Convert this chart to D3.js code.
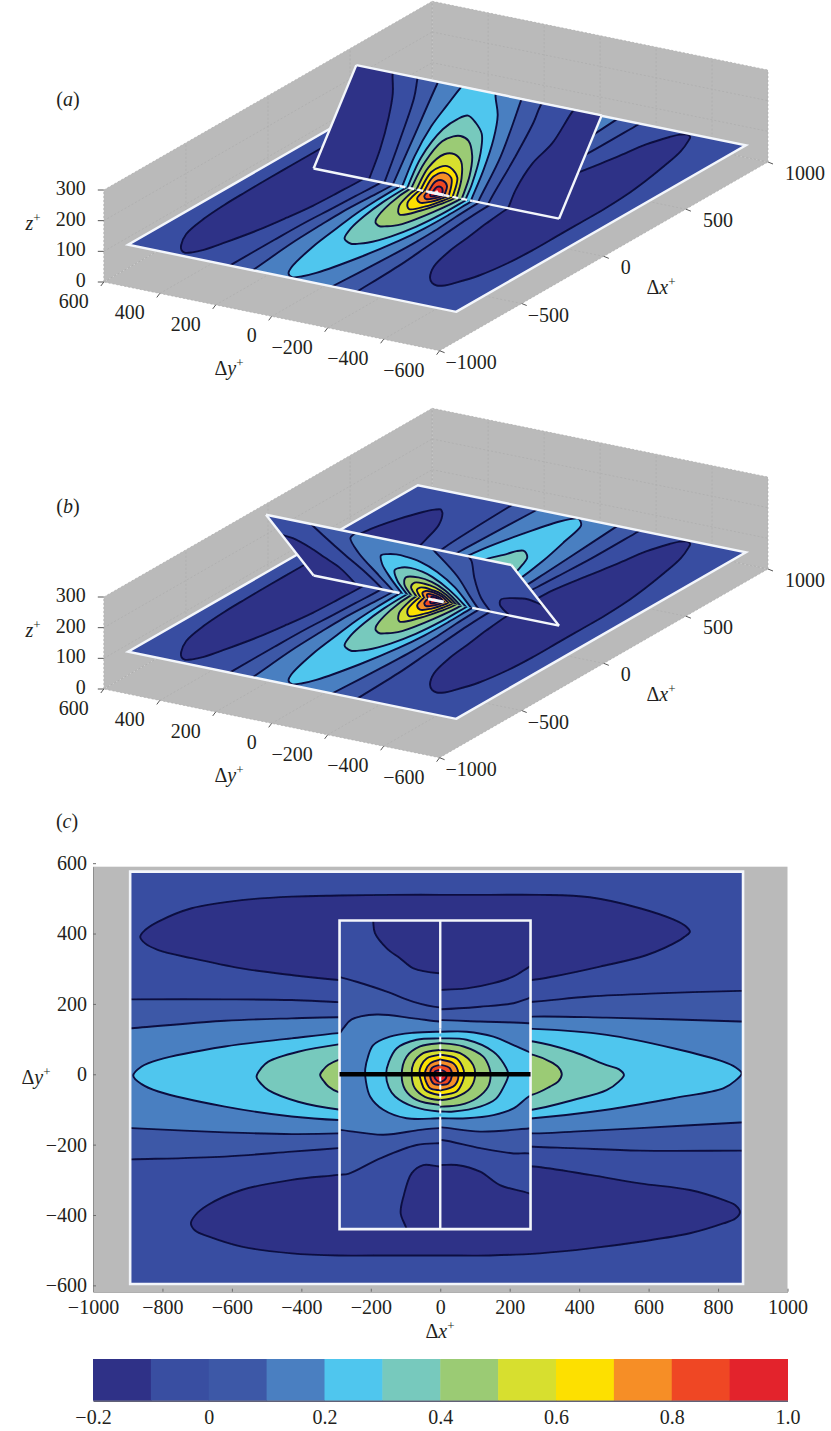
<!DOCTYPE html>
<html>
<head>
<meta charset="utf-8">
<script src="https://cdn.jsdelivr.net/npm/d3@7"></script>
<style>
  html, body { margin: 0; background: #fff; }
  text { font-family: "Liberation Serif", serif; font-size: 20px; fill: #231f20; }
</style>
</head>
<body>
<svg id="fig" width="831" height="1431"></svg>
<script>
// ----------------------------
// Data
// ----------------------------
const bandEdges = [-0.2, -0.1, 0, 0.1, 0.2, 0.3, 0.4, 0.5, 0.6, 0.7, 0.8, 0.9, 1.0];
const bandColors = ["#2f3187", "#394ea1", "#3d58a7", "#4a7fc1", "#4fc6ee", "#77c9bd",
  "#9bcb74", "#d7df2f", "#fde000", "#f68e26", "#ef4724", "#e3232c"];
const loopLevels = [0, 0.1, 0.2, 0.3, 0.4, 0.5, 0.6, 0.7, 0.8, 0.9];
const peakColor = "#f8dcdc";

const xTicks2d = [-1000, -800, -600, -400, -200, 0, 200, 400, 600, 800, 1000];
const yTicks2d = [-600, -400, -200, 0, 200, 400, 600];
const xTicks3d = [-1000, -500, 0, 500, 1000];
const yTicks3d = [-600, -400, -200, 0, 200, 400, 600];
const zTicks3d = [0, 100, 200, 300];
const barTicks = [-0.2, 0, 0.2, 0.4, 0.6, 0.8, 1.0];
const barLabels = ["\u22120.2", "0", "0.2", "0.4", "0.6", "0.8", "1.0"];

const floorX = [-893, 872];
const floorY = [-596, 576];
const planeY = [-440, 437];
const planeXLeft = -290;
const planeXRight = 260;
const floorZ = 93;
const planeSlopeRight = 0.988;
const planeSlopeLeft = 0.99;
const junctionGap = 130;
const peakBlob = 28;

// floor: regions below -0.1
const floorDarkLoops = [
  [[-864,391],[-850,410],[-812,434],[-716,472],[-572,495],[-428,505],[-293,508],[-140,510],[0,510],[143,510],[287,510],[431,503],[575,472],[671,440],[708,420],[719,405],[705,392],[691,382],[595,339],[460,306],[326,278],[263,268],[130,262],[0,258],[-150,262],[-293,268],[-428,282],[-572,301],[-716,330],[-812,353],[-850,372]],
  [[-718,-424],[-705,-400],[-668,-371],[-572,-329],[-428,-300],[-293,-286],[-150,-270],[0,-258],[130,-258],[268,-262],[431,-286],[575,-310],[719,-329],[815,-357],[850,-372],[863,-392],[850,-410],[815,-424],[719,-452],[575,-476],[431,-495],[287,-509],[143,-515],[0,-515],[-140,-515],[-293,-515],[-428,-509],[-572,-490],[-668,-461],[-705,-445]]
];
// floor: one closed loop per level in loopLevels
const floorLoops = [
  [[-1000,213],[-888,213],[-620,213],[-428,211],[-293,205],[-150,200],[0,195],[130,198],[268,206],[431,221],[623,230],[863,237],[1000,240],[1000,-217],[863,-217],[575,-217],[383,-210],[268,-206],[130,-198],[0,-195],[-150,-200],[-293,-210],[-428,-220],[-620,-234],[-888,-242],[-1000,-245]],
  [[-1000,125],[-888,131],[-620,152],[-428,159],[-293,162],[-150,158],[0,152],[130,156],[268,164],[479,161],[863,150],[1000,145],[1000,-130],[863,-137],[575,-153],[383,-163],[268,-168],[130,-160],[0,-155],[-150,-160],[-293,-168],[-428,-170],[-620,-165],[-888,-153],[-1000,-148]],
  [[-884,-4],[-860,22],[-812,41],[-620,79],[-428,102],[-293,117],[-150,125],[0,128],[130,130],[268,129],[479,112],[671,74],[815,36],[850,20],[868,3],[850,-18],[815,-40],[671,-68],[479,-101],[268,-125],[130,-132],[0,-130],[-150,-132],[-293,-130],[-428,-120],[-620,-92],[-812,-49],[-860,-28]],
  [[-529,-7],[-515,18],[-495,36],[-409,64],[-293,85],[-150,100],[0,105],[130,102],[268,93],[383,64],[479,26],[515,14],[529,-2],[515,-20],[479,-45],[383,-73],[268,-100],[130,-110],[0,-110],[-150,-110],[-293,-100],[-409,-78],[-495,-45],[-515,-28]],
  [[-346,-2],[-335,15],[-322,27],[-293,41],[-150,75],[0,90],[130,76],[268,55],[316,36],[340,20],[350,0],[340,-20],[316,-35],[268,-57],[130,-78],[0,-90],[-150,-78],[-293,-51],[-322,-35],[-335,-20]],
  [[-222,0],[-160,38],[-80,60],[0,71],[80,60],[160,38],[222,0],[160,-38],[80,-60],[0,-71],[-80,-60],[-160,-38]],
  [[-164,0],[-118,32],[-60,48],[0,57],[60,48],[118,32],[164,0],[118,-32],[60,-48],[0,-57],[-60,-48],[-118,-32]],
  [[-97,0],[-70,26],[-35,37],[0,43],[35,37],[70,26],[97,0],[70,-26],[35,-37],[0,-43],[-35,-37],[-70,-26]],
  [[-59,0],[-42,17],[-20,25],[0,28],[20,25],[42,17],[59,0],[42,-17],[20,-25],[0,-28],[-20,-25],[-42,-17]],
  [[-30,0],[-20,9],[0,15],[20,9],[30,0],[20,-9],[0,-15],[-20,-9]]
];

// inclined plane leaning to +x, seen as the right half of (c)
const planeRightDark = [
  [[-30,240],[4,240],[76,244],[153,259],[211,278],[254,304],[300,330],[300,480],[-30,480]],
  [[-30,-258],[4,-258],[47,-258],[115,-277],[172,-315],[254,-338],[300,-360],[300,-480],[-30,-480]]
];
const planeRightLoops = [
  [[-30,185],[4,185],[115,192],[211,202],[254,216],[300,232],[300,-240],[254,-225],[211,-225],[115,-210],[4,-187],[-30,-187]],
  [[-30,154],[4,154],[115,150],[254,145],[300,140],[300,-150],[254,-154],[115,-163],[4,-151],[-30,-151]],
  [[-30,121],[4,121],[76,121],[153,107],[211,83],[254,64],[300,40],[300,-40],[254,-64],[211,-97],[153,-116],[76,-125],[4,-125],[-30,-125]],
  [[-30,102],[4,102],[76,98],[153,64],[183,30],[196,0],[183,-35],[160,-70],[115,-92],[38,-106],[4,-106],[-30,-106]],
  [[-30,88],[4,88],[67,79],[124,50],[141,20],[145,-3],[138,-35],[105,-68],[57,-87],[4,-92],[-30,-92]],
  [[-30,69],[4,69],[57,60],[95,26],[100,-7],[86,-40],[47,-64],[4,-73],[-30,-73]],
  [[-30,55],[4,55],[47,45],[64,22],[69,0],[64,-22],[47,-49],[4,-59],[-30,-59]],
  [[-30,41],[4,41],[38,31],[52,3],[43,-30],[4,-45],[-30,-45]],
  [[-30,26],[4,26],[28,17],[33,-7],[23,-26],[4,-30],[-30,-30]],
  [[-30,12],[4,12],[16,5],[16,-12],[4,-21],[-30,-21]]
];

// inclined plane leaning to -x, seen as the left half of (c)
const planeLeftDark = [
  [[30,287],[-3,287],[-77,301],[-116,330],[-154,358],[-188,401],[-193,434],[-195,480],[30,480]],
  [[30,-262],[-3,-262],[-49,-258],[-82,-281],[-106,-348],[-114,-395],[-97,-440],[-90,-480],[30,-480]]
];
const planeLeftLoops = [
  [[30,190],[-3,190],[-77,206],[-154,235],[-241,263],[-291,277],[-330,290],[-330,-300],[-291,-286],[-265,-283],[-173,-239],[-68,-201],[-3,-196],[30,-196]],
  [[30,150],[-3,150],[-77,159],[-183,170],[-255,156],[-279,131],[-291,116],[-330,100],[-330,-155],[-289,-158],[-164,-172],[-58,-158],[-3,-153],[30,-153]],
  [[30,121],[-3,121],[-77,118],[-145,107],[-193,83],[-208,50],[-216,15],[-214,-20],[-202,-63],[-164,-101],[-97,-125],[-3,-125],[30,-125]],
  [[30,102],[-3,102],[-68,98],[-125,74],[-148,35],[-156,0],[-148,-38],[-130,-63],[-77,-92],[-3,-106],[30,-106]],
  [[30,88],[-3,88],[-58,79],[-97,50],[-111,-2],[-101,-44],[-68,-73],[-3,-87],[30,-87]],
  [[30,69],[-3,69],[-49,60],[-77,31],[-82,-7],[-73,-40],[-44,-64],[-3,-73],[30,-73]],
  [[30,55],[-3,55],[-39,45],[-55,25],[-60,3],[-55,-20],[-44,-44],[-3,-59],[30,-59]],
  [[30,41],[-3,41],[-29,31],[-42,12],[-45,-3],[-42,-18],[-29,-40],[-3,-45],[30,-45]],
  [[30,26],[-3,26],[-25,17],[-29,-7],[-20,-26],[-3,-30],[30,-30]],
  [[30,12],[-3,12],[-15,8],[-17,-7],[-10,-18],[-3,-21],[30,-21]]
];
const peakLoop = [[-8,0],[0,7],[8,0],[0,-9]];

// ----------------------------
// Shared helpers
// ----------------------------
const svg = d3.select("#fig");
const defs = svg.append("defs");
const lineColor = "#0b1040";
const whiteLine = "#f3f6fb";
const wallColor = "#bababa";
const gridColor = "#acacac";
const bandColorAt = level => bandColors[bandEdges.indexOf(level)];
let clipCount = 0;

defs.append("filter").attr("id", "soft")
  .append("feGaussianBlur").attr("stdDeviation", 0.4);

function addClip(points) {
  const id = "clip" + (clipCount++);
  defs.append("clipPath").attr("id", id).append("polygon")
    .attr("points", points.map(p => p.join(",")).join(" "));
  return id;
}

function drawMap(g, map, corners, baseColor, darkLoops, loops, peak) {
  const clipId = addClip(corners.map(map));
  const layer = g.append("g").attr("filter", "url(#soft)")
    .append("g").attr("clip-path", `url(#${clipId})`);
  const path = d3.line()
    .x(p => map(p)[0]).y(p => map(p)[1])
    .curve(d3.curveCatmullRomClosed.alpha(0.5));

  layer.append("polygon")
    .attr("points", corners.map(map).map(p => p.join(",")).join(" "))
    .attr("fill", baseColor);

  const region = (loop, color) => layer.append("path")
    .attr("d", path(loop))
    .attr("fill", color)
    .attr("stroke", lineColor)
    .attr("stroke-width", 1.9);

  darkLoops.forEach(loop => region(loop, bandColors[0]));
  loops.forEach((loop, i) => region(loop, bandColorAt(loopLevels[i])));
  layer.append("path").attr("d", path(peak)).attr("fill", peakColor);
}

function rectCorners(xs, ys) {
  return [[xs[0], ys[0]], [xs[1], ys[0]], [xs[1], ys[1]], [xs[0], ys[1]]];
}

function outline(g, map, corners, width) {
  g.append("polygon")
    .attr("points", corners.map(map).map(p => p.join(",")).join(" "))
    .attr("fill", "none")
    .attr("stroke", whiteLine)
    .attr("stroke-width", width)
    .attr("stroke-linejoin", "miter");
}

function whiteSeg(g, a, b, width, dash) {
  g.append("line")
    .attr("x1", a[0]).attr("y1", a[1]).attr("x2", b[0]).attr("y2", b[1])
    .attr("stroke", whiteLine).attr("stroke-width", width)
    .attr("stroke-dasharray", dash || null);
}

function axisLabel(g, x, y, sym, anchor) {
  const t = g.append("text").attr("x", x).attr("y", y).attr("text-anchor", anchor || "middle");
  if (sym !== "z") t.append("tspan").text("\u0394");
  t.append("tspan").attr("font-style", "italic").text(sym);
  t.append("tspan").attr("dy", -8).style("font-size", "13px").text("+");
}

function panelTag(g, x, y, letter) {
  const t = g.append("text").attr("x", x).attr("y", y).attr("text-anchor", "middle");
  t.append("tspan").text("(");
  t.append("tspan").attr("font-style", "italic").text(letter);
  t.append("tspan").text(")");
}

// ----------------------------
// 3-D panels (a) and (b)
// ----------------------------
const sxOfX = d3.scaleLinear().domain([-1000, 1000]).range([-164.2, 164.2]);
const syOfX = d3.scaleLinear().domain([-1000, 1000]).range([94.35, -94.35]);
const sxOfY = d3.scaleLinear().domain([-600, 600]).range([167.9, -167.9]);
const syOfY = d3.scaleLinear().domain([-600, 600]).range([34.35, -34.35]);
const syOfZ = d3.scaleLinear().domain([0, 300]).range([0, -92]);

function drawPanel3d(shiftY, tag, leanRight) {
  const centre = [435.9, 222 + shiftY];
  const project = (x, y, z) => [
    centre[0] + sxOfX(x) + sxOfY(y),
    centre[1] + syOfX(x) + syOfY(y) + syOfZ(z)
  ];
  const g = svg.append("g");

  // walls and box floor
  const wall = pts => g.append("polygon")
    .attr("points", pts.map(p => p.join(",")).join(" "))
    .attr("fill", wallColor);
  wall([project(-1000,600,0), project(-1000,-600,0), project(1000,-600,0), project(1000,600,0)]);
  wall([project(-1000,600,0), project(-1000,600,300), project(1000,600,300), project(1000,600,0)]);
  wall([project(1000,600,0), project(1000,600,300), project(1000,-600,300), project(1000,-600,0)]);

  // grid
  const seg = (a, b, color, w, dash) => g.append("line")
    .attr("x1", a[0]).attr("y1", a[1]).attr("x2", b[0]).attr("y2", b[1])
    .attr("stroke", color).attr("stroke-width", w)
    .attr("stroke-dasharray", dash || null);
  xTicks3d.forEach(x => {
    seg(project(x,-600,0), project(x,600,0), gridColor, 0.7, "2 2");
    seg(project(x,600,0), project(x,600,300), gridColor, 0.7, "2 2");
  });
  yTicks3d.forEach(y => {
    seg(project(-1000,y,0), project(1000,y,0), gridColor, 0.7, "2 2");
    seg(project(1000,y,0), project(1000,y,300), gridColor, 0.7, "2 2");
  });
  zTicks3d.forEach(z => {
    seg(project(-1000,600,z), project(1000,600,z), gridColor, 0.7, "2 2");
    seg(project(1000,600,z), project(1000,-600,z), gridColor, 0.7, "2 2");
  });

  // floor contours
  const floorMap = p => project(p[0], p[1], floorZ);
  const floorCorners = rectCorners(floorX, floorY);
  drawMap(g, floorMap, floorCorners, bandColors[1], floorDarkLoops, floorLoops, peakLoop);
  outline(g, floorMap, floorCorners, 2.4);

  // inclined plane, three solid edges and a broken one along the floor
  const planeMap = leanRight
    ? p => project(p[0], p[1], floorZ + p[0] * planeSlopeRight)
    : p => project(p[0], p[1], floorZ - p[0] * planeSlopeLeft);
  const planeCorners = leanRight
    ? rectCorners([0, planeXRight], planeY)
    : rectCorners([planeXLeft, 0], planeY);
  drawMap(g, planeMap, planeCorners, bandColors[1],
    leanRight ? planeRightDark : planeLeftDark,
    leanRight ? planeRightLoops : planeLeftLoops, peakLoop);
  const farX = leanRight ? planeXRight : planeXLeft;
  whiteSeg(g, planeMap([0, planeY[0]]), planeMap([farX, planeY[0]]), 2.4);
  whiteSeg(g, planeMap([farX, planeY[0]]), planeMap([farX, planeY[1]]), 2.4);
  whiteSeg(g, planeMap([farX, planeY[1]]), planeMap([0, planeY[1]]), 2.4);
  whiteSeg(g, planeMap([0, planeY[1]]), planeMap([0, junctionGap]), 2.4);
  whiteSeg(g, planeMap([0, -junctionGap]), planeMap([0, planeY[0]]), 2.4);
  if (leanRight) whiteSeg(g, planeMap([0, junctionGap]), planeMap([0, -junctionGap]), 2.4, "6 3");
  whiteSeg(g, planeMap([0, peakBlob]), planeMap([0, -peakBlob]), 3);

  // ticks and tick labels
  xTicks3d.forEach(x => {
    const p = project(x, -600, 0);
    seg(p, [p[0] + 5, p[1] + 2], "#555", 1);
    g.append("text").attr("x", p[0] + (x < 0 ? 6 : 17)).attr("y", p[1] + 18)
      .attr("text-anchor", "start").text(d3.format("d")(x));
  });
  yTicks3d.forEach(y => {
    const p = project(-1000, y, 0);
    seg(p, [p[0] - 3, p[1] + 4], "#555", 1);
    g.append("text").attr("x", p[0] - 15).attr("y", p[1] + 26)
      .attr("text-anchor", "end").text(d3.format("d")(y));
  });
  zTicks3d.forEach(z => {
    const p = project(-1000, 600, z);
    seg(p, [p[0] - 6, p[1]], "#555", 1);
    g.append("text").attr("x", p[0] - 18).attr("y", p[1] + 5)
      .attr("text-anchor", "end").text(z);
  });
  axisLabel(g, 661, 294 + shiftY, "x");
  axisLabel(g, 229, 375 + shiftY, "y");
  axisLabel(g, 33, 230 + shiftY, "z");
  panelTag(g, 68, 106 + shiftY, tag);
}

drawPanel3d(0, "a", true);
drawPanel3d(407, "b", false);

// ----------------------------
// Panel (c)
// ----------------------------
const xC = d3.scaleLinear().domain([-1000, 1000]).range([93, 787.5]);
const yC = d3.scaleLinear().domain([-618, 590]).range([1291.7, 866.7]);
const gC = svg.append("g");
const flatMap = p => [xC(p[0]), yC(p[1])];

gC.append("rect")
  .attr("x", xC(-1000)).attr("y", yC(590))
  .attr("width", xC(1000) - xC(-1000)).attr("height", yC(-618) - yC(590))
  .attr("fill", wallColor);

const floorCornersC = rectCorners(floorX, floorY);
drawMap(gC, flatMap, floorCornersC, bandColors[1], floorDarkLoops, floorLoops, peakLoop);
outline(gC, flatMap, floorCornersC, 2.6);

drawMap(gC, flatMap, rectCorners([planeXLeft, 0], planeY), bandColors[1], planeLeftDark, planeLeftLoops, peakLoop);
drawMap(gC, flatMap, rectCorners([0, planeXRight], planeY), bandColors[1], planeRightDark, planeRightLoops, peakLoop);
outline(gC, flatMap, rectCorners([planeXLeft, planeXRight], planeY), 2.6);

whiteSeg(gC, flatMap([0, planeY[1]]), flatMap([0, junctionGap]), 2.4);
whiteSeg(gC, flatMap([0, junctionGap]), flatMap([0, -junctionGap]), 2, "5 3");
whiteSeg(gC, flatMap([0, -junctionGap]), flatMap([0, planeY[0]]), 2.4);
gC.append("line")
  .attr("x1", xC(planeXLeft)).attr("x2", xC(planeXRight)).attr("y1", yC(0)).attr("y2", yC(0))
  .attr("stroke", "#000").attr("stroke-width", 4.4);

const xAxisC = gC.append("g").attr("transform", `translate(0,${yC(-618)})`)
  .call(d3.axisBottom(xC).tickValues(xTicks2d).tickFormat(d3.format("d")).tickSizeInner(-3).tickSizeOuter(0).tickPadding(8));
const yAxisC = gC.append("g").attr("transform", `translate(${xC(-1000)},0)`)
  .call(d3.axisLeft(yC).tickValues(yTicks2d).tickFormat(d3.format("d")).tickSizeInner(-3).tickSizeOuter(0).tickPadding(6));
[xAxisC, yAxisC].forEach(a => {
  a.select(".domain").attr("stroke", "#8d8d8d");
  a.selectAll("line").attr("stroke", "#6d6d6d");
  a.attr("font-family", null).attr("font-size", null);
});
axisLabel(gC, 440, 1338, "x");
axisLabel(gC, 36, 1084, "y");
panelTag(gC, 67, 828, "c");

// ----------------------------
// Colour bar
// ----------------------------
const xBar = d3.scaleLinear().domain([-0.2, 1.0]).range([93, 787.5]);
const gBar = svg.append("g");
gBar.selectAll("rect").data(bandColors).join("rect")
  .attr("x", (d, i) => xBar(bandEdges[i]))
  .attr("width", (d, i) => xBar(bandEdges[i + 1]) - xBar(bandEdges[i]) + 0.5)
  .attr("y", 1359).attr("height", 41.7)
  .attr("fill", d => d);
const barAxis = gBar.append("g").attr("transform", "translate(0,1400.7)")
  .call(d3.axisBottom(xBar).tickValues(barTicks)
    .tickFormat((d, i) => barLabels[i]).tickSizeInner(0).tickSizeOuter(0).tickPadding(9));
barAxis.select(".domain").attr("stroke", "#1b1b3a");
barAxis.attr("font-family", null).attr("font-size", null);
</script>
</body>
</html>
